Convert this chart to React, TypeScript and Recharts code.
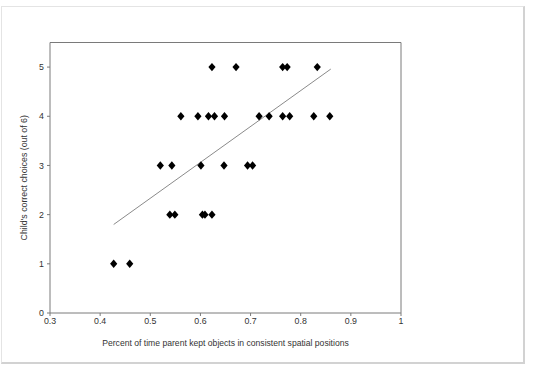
import React from 'react';
import { ScatterChart, Scatter, XAxis, YAxis, ReferenceLine, Label } from 'recharts';

const xValues = [
  0.623, 0.671, 0.764, 0.773, 0.833,
  0.561, 0.595, 0.616, 0.628, 0.648, 0.717, 0.737, 0.764, 0.778, 0.826, 0.858,
  0.520, 0.543, 0.601, 0.647, 0.694, 0.704,
  0.539, 0.549, 0.604, 0.609, 0.623,
  0.427, 0.459,
];
const yValues = [
  5, 5, 5, 5, 5,
  4, 4, 4, 4, 4, 4, 4, 4, 4, 4, 4,
  3, 3, 3, 3, 3, 3,
  2, 2, 2, 2, 2,
  1, 1,
];
const trendX = [0.427, 0.86];
const trendY = [1.8, 4.96];
const xTicks = [0.3, 0.4, 0.5, 0.6, 0.7, 0.8, 0.9, 1];
const yTicks = [0, 1, 2, 3, 4, 5];
const xTitle = 'Percent of time parent kept objects in consistent spatial positions';
const yTitle = "Child's correct choices  (out of 6)";

const points = xValues.map((x, i) => ({ x, y: yValues[i] }));
const trend = trendX.map((x, i) => ({ x, y: trendY[i] }));

const FONT = '"Liberation Sans", Arial, sans-serif';
const AXIS = '#7a7a7a';
const TEXT = '#333333';

const Diamond = (props: any) => {
  const { cx, cy } = props;
  if (cx == null || cy == null) return null;
  const w = 3.6;
  const h = 4.2;
  return (
    <polygon
      points={`${cx},${cy - h} ${cx + w},${cy} ${cx},${cy + h} ${cx - w},${cy}`}
      fill="#000"
    />
  );
};

const NoShape = () => null;

export default function App() {
  return (
    <div style={{ position: 'absolute', left: 0, top: 0, width: 536, height: 366, background: '#fff' }}>
      <div
        style={{
          position: 'absolute',
          left: 1,
          top: 6,
          width: 521,
          height: 355,
          borderTop: '1px solid #e4e4e4',
          borderLeft: '1px solid #e4e4e4',
          borderRight: '2px solid #d2d2d2',
          borderBottom: '2px solid #d2d2d2',
        }}
      />
      <div style={{ position: 'absolute', left: 0, top: 0 }}>
        <ScatterChart
          width={536}
          height={366}
          margin={{ top: 42.5, right: 135, bottom: 23, left: 20 }}
        >
          <XAxis
            type="number"
            dataKey="x"
            domain={[0.3, 1]}
            ticks={xTicks}
            interval={0}
            allowDataOverflow
            height={30}
            stroke={AXIS}
            tickSize={3}
            tickMargin={2}
            tick={{ fill: TEXT, fontSize: 8.8, fontFamily: FONT }}
          >
            <Label
              content={(p: any) => {
                const vb = p.viewBox || {};
                return (
                  <text
                    x={vb.x + vb.width / 2}
                    y={vb.y + 30}
                    textAnchor="middle"
                    dominantBaseline="central"
                    fill={TEXT}
                    fontSize={8.6}
                    fontFamily={FONT}
                  >
                    {xTitle}
                  </text>
                );
              }}
            />
          </XAxis>
          <YAxis
            type="number"
            dataKey="y"
            domain={[0, 5.5]}
            ticks={yTicks}
            interval={0}
            allowDataOverflow
            width={30}
            stroke={AXIS}
            tickSize={3}
            tickMargin={3}
            tick={{ fill: TEXT, fontSize: 8.8, fontFamily: FONT }}
          >
            <Label
              content={(p: any) => {
                const vb = p.viewBox || {};
                const cx = vb.x + 4;
                const cy = vb.y + vb.height / 2;
                return (
                  <text
                    x={cx}
                    y={cy}
                    transform={`rotate(-90, ${cx}, ${cy})`}
                    textAnchor="middle"
                    dominantBaseline="central"
                    fill={TEXT}
                    fontSize={8.8}
                    fontFamily={FONT}
                  >
                    {yTitle}
                  </text>
                );
              }}
            />
          </YAxis>
          <ReferenceLine y={5.5} stroke={AXIS} strokeWidth={1} />
          <ReferenceLine x={1} stroke={AXIS} strokeWidth={1} />
          <Scatter
            data={trend}
            line={{ stroke: '#8a8a8a', strokeWidth: 1 }}
            shape={NoShape}
            isAnimationActive={false}
          />
          <Scatter data={points} shape={Diamond} isAnimationActive={false} />
        </ScatterChart>
      </div>
    </div>
  );
}
